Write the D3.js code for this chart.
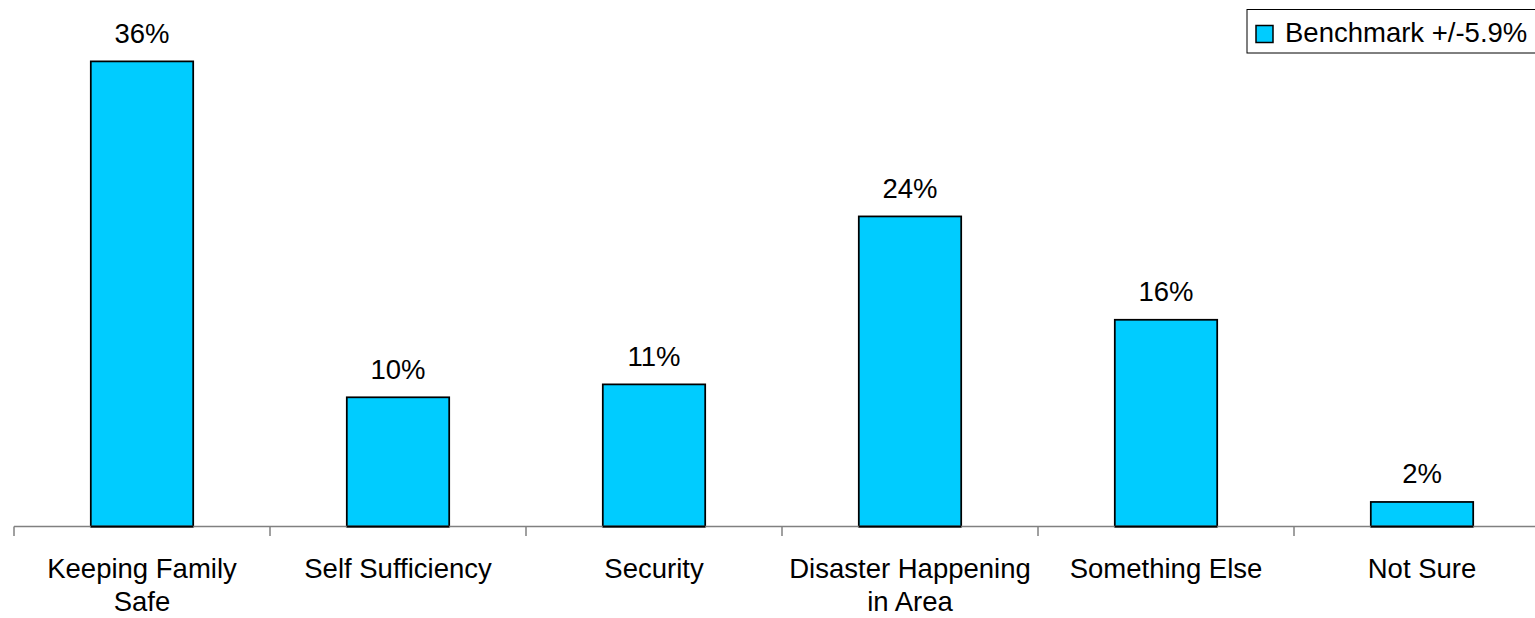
<!DOCTYPE html>
<html>
<head>
<meta charset="utf-8">
<script src="https://cdn.jsdelivr.net/npm/d3@7/dist/d3.min.js"></script>
<style>
  html, body { margin: 0; padding: 0; background: #fff; }
  svg { display: block; }
  text { font-family: "Liberation Sans", Arial, sans-serif; fill: #000; }
</style>
</head>
<body>
<svg id="chart" width="1535" height="618"></svg>
<script>
const categories = ["Keeping Family Safe", "Self Sufficiency", "Security", "Disaster Happening in Area", "Something Else", "Not Sure"];
const values = [36, 10, 11, 24, 16, 1.9];
const valueLabels = ["36%", "10%", "11%", "24%", "16%", "2%"];
const seriesName = "Benchmark +/-5.9%";

const W = 1535, H = 618;
const svg = d3.select("#chart");
const FONT = 27.5;

const x = d3.scaleBand().domain(categories).range([14, 1550]).paddingInner(0.6).paddingOuter(0.3);
const y = d3.scaleLinear().domain([0, 40]).range([526.5, 9.7]);
const edge = d3.scaleLinear().domain([0, categories.length]).range([14, 1550]);

// bars
svg.append("g").selectAll("rect").data(values).join("rect")
  .attr("x", (d, i) => x(categories[i]))
  .attr("y", d => y(d))
  .attr("width", x.bandwidth())
  .attr("height", d => y(0) - y(d))
  .attr("fill", "#00CCFF")
  .attr("stroke", "#000")
  .attr("stroke-width", 1.75);

// axis line and ticks
const axis = svg.append("g");
axis.append("line")
  .attr("x1", 14).attr("x2", W).attr("y1", y(0)).attr("y2", y(0))
  .attr("stroke", "#808080").attr("stroke-width", 1.5);
axis.selectAll("line.tick").data(d3.range(categories.length + 1)).join("line")
  .attr("class", "tick")
  .attr("x1", d => edge(d)).attr("x2", d => edge(d))
  .attr("y1", y(0)).attr("y2", y(0) + 9.5)
  .attr("stroke", "#808080").attr("stroke-width", 1.5);

// re-draw bar bottoms over axis
svg.append("g").selectAll("line").data(values).join("line")
  .attr("x1", (d, i) => x(categories[i])).attr("x2", (d, i) => x(categories[i]) + x.bandwidth())
  .attr("y1", y(0)).attr("y2", y(0))
  .attr("stroke", "#000").attr("stroke-width", 1.75);

// value labels
svg.append("g").selectAll("text").data(values).join("text")
  .attr("x", (d, i) => x(categories[i]) + x.bandwidth() / 2)
  .attr("y", d => y(d) - 18.5)
  .attr("text-anchor", "middle")
  .style("font-size", FONT + "px")
  .text((d, i) => valueLabels[i]);

// category labels with wrapping
const ctx = document.createElement("canvas").getContext("2d");
ctx.font = FONT + "px 'Liberation Sans', Arial, sans-serif";
function wrap(str, maxW) {
  const words = str.split(" ");
  const lines = [];
  let cur = "";
  words.forEach(w => {
    const t = cur ? cur + " " + w : w;
    if (ctx.measureText(t).width > maxW && cur) { lines.push(cur); cur = w; }
    else cur = t;
  });
  if (cur) lines.push(cur);
  return lines;
}
const cats = svg.append("g").selectAll("text").data(categories).join("text")
  .attr("text-anchor", "middle")
  .style("font-size", FONT + "px")
  .attr("transform", d => `translate(${x(d) + x.bandwidth() / 2},577.5)`);
cats.each(function(d) {
  const lines = wrap(d, 245);
  d3.select(this).selectAll("tspan").data(lines).join("tspan")
    .attr("x", 0).attr("dy", (l, i) => i === 0 ? 0 : 33.5).text(l => l);
});

// legend
const lg = svg.append("g");
lg.append("rect").attr("x", 1247).attr("y", 9.5).attr("width", 300).attr("height", 43.5)
  .attr("fill", "#fff").attr("stroke", "#000").attr("stroke-width", 1);
lg.append("rect").attr("x", 1256).attr("y", 25.5).attr("width", 17).attr("height", 17)
  .attr("fill", "#00CCFF").attr("stroke", "#000").attr("stroke-width", 1.5);
lg.append("text").attr("x", 1285).attr("y", 42).style("font-size", FONT + "px").text(seriesName);
</script>
</body>
</html>
